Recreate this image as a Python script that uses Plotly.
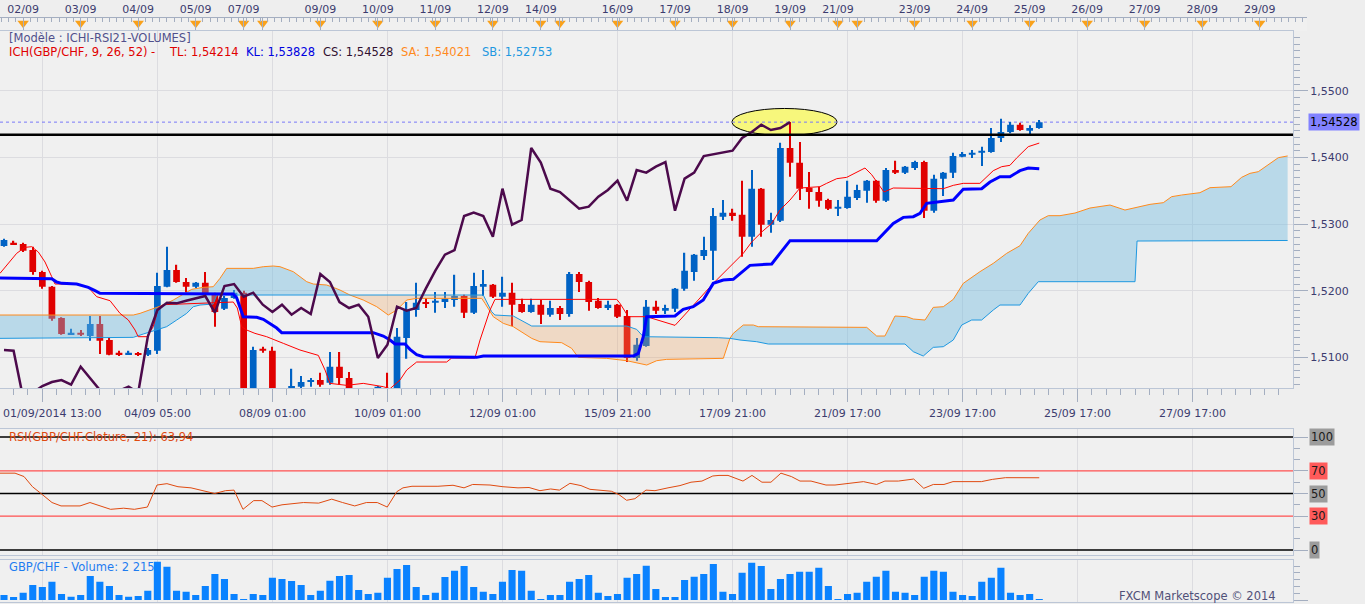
import plotly.graph_objects as go

# GBP/CHF 4h candles, index 0 = first bar on screen
open_ = [1.5267, 1.5272, 1.5270, 1.5261, 1.5228, 1.5206, 1.5159, 1.5135, 1.5137, 1.5132,
         1.5150, 1.5126, 1.5106, 1.5105, 1.5106, 1.5104, 1.5110, 1.5206, 1.5231, 1.5213,
         1.5206, 1.5212, 1.5194, 1.5173, 1.5189, 1.5197, 1.5041, 1.5113, 1.5110, 1.5041,
         1.5050, 1.5056, 1.5063, 1.5066, 1.5062, 1.5086, 1.5069, 1.5051, 1.5047, 1.5048,
         1.5053, 1.5044, 1.5129, 1.5171, 1.5183, 1.5182, 1.5183, 1.5186, 1.5192, 1.5167,
         1.5206, 1.5209, 1.5191, 1.5197, 1.5180, 1.5168, 1.5179, 1.5164, 1.5174, 1.5165,
         1.5225, 1.5213, 1.5185, 1.5174, 1.5179, 1.5162, 1.5099, 1.5117, 1.5176, 1.5170,
         1.5173, 1.5203, 1.5228, 1.5252, 1.5260, 1.5311, 1.5317, 1.5314, 1.5281, 1.5353,
         1.5299, 1.5305, 1.5414, 1.5392, 1.5354, 1.5348, 1.5336, 1.5323, 1.5324, 1.5339,
         1.5350, 1.5365, 1.5335, 1.5381, 1.5377, 1.5384, 1.5393, 1.5320, 1.5368, 1.5377,
         1.5401, 1.5404, 1.5407, 1.5408, 1.5429, 1.5438, 1.5449, 1.5440, 1.5444]
high = [1.5278, 1.5275, 1.5272, 1.5266, 1.5230, 1.5207, 1.5160, 1.5143, 1.5141, 1.5162,
        1.5162, 1.5129, 1.5110, 1.5110, 1.5108, 1.5114, 1.5227, 1.5266, 1.5239, 1.5219,
        1.5213, 1.5228, 1.5197, 1.5192, 1.5201, 1.5200, 1.5116, 1.5116, 1.5116, 1.5051,
        1.5083, 1.5072, 1.5069, 1.5077, 1.5108, 1.5108, 1.5078, 1.5053, 1.5053, 1.5057,
        1.5077, 1.5144, 1.5183, 1.5212, 1.5189, 1.5198, 1.5198, 1.5224, 1.5194, 1.5227,
        1.5231, 1.5210, 1.5221, 1.5212, 1.5188, 1.5188, 1.5186, 1.5185, 1.5177, 1.5228,
        1.5228, 1.5215, 1.5189, 1.5185, 1.5180, 1.5171, 1.5129, 1.5186, 1.5185, 1.5179,
        1.5204, 1.5257, 1.5255, 1.5281, 1.5324, 1.5336, 1.5323, 1.5365, 1.5381, 1.5354,
        1.5317, 1.5422, 1.5453, 1.5423, 1.5378, 1.5356, 1.5338, 1.5336, 1.5365, 1.5359,
        1.5366, 1.5366, 1.5384, 1.5395, 1.5387, 1.5395, 1.5395, 1.5374, 1.5378, 1.5407,
        1.5408, 1.5411, 1.5416, 1.5444, 1.5458, 1.5453, 1.5452, 1.5448, 1.5456]
low = [1.5266, 1.5269, 1.5258, 1.5224, 1.5203, 1.5155, 1.5134, 1.5134, 1.5132, 1.5125,
       1.5105, 1.5103, 1.5102, 1.5104, 1.5102, 1.5102, 1.5105, 1.5205, 1.5212, 1.5198,
       1.5204, 1.5192, 1.5146, 1.5171, 1.5188, 1.5021, 1.5029, 1.5107, 1.5029, 1.5033,
       1.5047, 1.5053, 1.5056, 1.5056, 1.5059, 1.5059, 1.5048, 1.5042, 1.5042, 1.5044,
       1.5042, 1.5041, 1.5098, 1.5161, 1.5174, 1.5167, 1.5174, 1.5176, 1.5159, 1.5165,
       1.5192, 1.5189, 1.5176, 1.5147, 1.5167, 1.5167, 1.5150, 1.5161, 1.5156, 1.5161,
       1.5198, 1.5170, 1.5173, 1.5171, 1.5159, 1.5093, 1.5095, 1.5116, 1.5165, 1.5165,
       1.5168, 1.5200, 1.5215, 1.5246, 1.5216, 1.5306, 1.5305, 1.5251, 1.5266, 1.5281,
       1.5287, 1.5303, 1.5371, 1.5336, 1.5323, 1.5326, 1.5321, 1.5312, 1.5323, 1.5336,
       1.5332, 1.5332, 1.5333, 1.5375, 1.5375, 1.5381, 1.5309, 1.5317, 1.5342, 1.5369,
       1.5400, 1.5399, 1.5387, 1.5407, 1.5423, 1.5436, 1.5440, 1.5435, 1.5443]
close = [1.5276, 1.5270, 1.5260, 1.5228, 1.5206, 1.5158, 1.5135, 1.5137, 1.5134, 1.5150,
         1.5125, 1.5104, 1.5105, 1.5107, 1.5104, 1.5111, 1.5207, 1.5231, 1.5213, 1.5206,
         1.5212, 1.5194, 1.5168, 1.5189, 1.5197, 1.5036, 1.5111, 1.5110, 1.5039, 1.5047,
         1.5057, 1.5063, 1.5066, 1.5059, 1.5086, 1.5069, 1.5051, 1.5047, 1.5050, 1.5056,
         1.5047, 1.5131, 1.5171, 1.5182, 1.5181, 1.5185, 1.5188, 1.5192, 1.5167, 1.5207,
         1.5210, 1.5191, 1.5197, 1.5179, 1.5168, 1.5179, 1.5164, 1.5174, 1.5165, 1.5225,
         1.5213, 1.5183, 1.5174, 1.5179, 1.5161, 1.5099, 1.5119, 1.5176, 1.5170, 1.5174,
         1.5203, 1.5230, 1.5254, 1.5261, 1.5312, 1.5317, 1.5312, 1.5281, 1.5353, 1.5299,
         1.5306, 1.5414, 1.5392, 1.5353, 1.5348, 1.5335, 1.5323, 1.5326, 1.5341, 1.5351,
         1.5365, 1.5335, 1.5381, 1.5377, 1.5386, 1.5393, 1.5320, 1.5368, 1.5377, 1.5402,
         1.5405, 1.5407, 1.5410, 1.5429, 1.5438, 1.5449, 1.5441, 1.5444, 1.54528]
volume = [11100, 6600, 16200, 33200, 28800, 40500, 13300, 7300, 11100, 53200,
          40500, 31000, 11100, 7300, 8900, 20600, 84800, 73800, 20600, 18400,
          11100, 31000, 57600, 46500, 13300, 2200, 13300, 11100, 49400, 46500,
          42100, 33200, 11100, 20600, 42700, 53200, 55400, 22200, 13300, 16200,
          49400, 68700, 77500, 28800, 11100, 16200, 50900, 64900, 75300, 28800,
          18400, 13300, 40500, 66500, 64900, 20600, 2200, 11100, 11100, 40500,
          46500, 55400, 16200, 8900, 13300, 49400, 57600, 76000, 24400, 6600,
          6600, 44300, 51600, 57600, 79700, 18400, 13300, 60500, 82600, 75300,
          24400, 46500, 57600, 62700, 62700, 71500, 31000, 2200, 13300, 16200,
          40500, 51600, 64900, 18400, 16200, 11100, 51600, 64900, 62700, 18400,
          11100, 8900, 40500, 49400, 71500, 16200, 11100, 13300, 2215]

# ichimoku lines (x = bar index)
tenkan_x = [-0.42, 0.45, 1.32, 2.19, 2.89, 3.58, 4.28, 4.98, 5.32, 7.58, 8.79, 9.67, 11.06, 12.1,
            12.97, 13.67, 14.0, 14.89, 15.57, 16.1, 16.62, 23.92, 24.34, 24.8, 25.32, 26.18,
            27.4, 29.14, 30.88, 32.79, 33.49, 34.01, 35.75, 37.48, 39.57, 40.27, 41.31, 42.01,
            43.05, 46.18, 46.7, 49.13, 49.66, 50.7, 51.22, 63.92, 64.26, 65.13, 67.05, 70.0,
            70.52, 73.99, 76.08, 77.12, 78.0, 79.04, 80.09, 80.95, 82.0, 83.04, 84.08, 85.12,
            85.82, 86.87, 87.91, 88.95, 89.82, 90.52, 91.8, 92.77, 97.99, 99.03, 100.07, 101.81,
            103.2, 104.08, 104.94, 105.64, 106.85, 108.0]
tenkan_y = [1.5226, 1.5241, 1.5256, 1.5265, 1.5266, 1.5258, 1.5243, 1.5221, 1.5210, 1.5210,
            1.5205, 1.5191, 1.5185, 1.5166, 1.5156, 1.5141, 1.5131, 1.5131, 1.5146, 1.5174,
            1.5179, 1.5183, 1.5174, 1.5146, 1.5141, 1.5136, 1.5131, 1.5121, 1.5111, 1.5103,
            1.5081, 1.5061, 1.5058, 1.5061, 1.5056, 1.5053, 1.5066, 1.5081, 1.5093, 1.5093,
            1.5099, 1.5099, 1.5126, 1.5171, 1.5187, 1.5187, 1.5181, 1.5161, 1.5161, 1.5148,
            1.5156, 1.5211, 1.5241, 1.5256, 1.5273, 1.5288, 1.5301, 1.5321, 1.5336, 1.5354,
            1.5355, 1.5356, 1.5361, 1.5368, 1.5370, 1.5378, 1.5384, 1.5374, 1.5348, 1.5354,
            1.5353, 1.5358, 1.5361, 1.5361, 1.5380, 1.5386, 1.5388, 1.5399, 1.5416, 1.54214]
kijun_x = [-0.42, 4.98, 5.5, 6.02, 7.58, 8.79, 9.49, 10.01, 23.92, 24.28, 24.96, 26.36, 27.05,
           27.75, 28.45, 28.97, 38.52, 39.57, 40.27, 40.79, 41.83, 42.35, 43.05, 43.74, 49.31,
           50.0, 65.65, 66.17, 66.69, 67.04, 70.0, 70.86, 71.9, 72.95, 73.99, 75.04, 76.08,
           77.82, 80.09, 80.95, 82.0, 91.04, 91.73, 92.77, 93.82, 94.86, 95.56, 96.25, 99.03,
           100.07, 101.99, 102.86, 103.9, 104.94, 105.99, 106.85, 108.0]
kijun_y = [1.5219, 1.5218, 1.5213, 1.5211, 1.5210, 1.5205, 1.5200, 1.5196, 1.5195, 1.5189,
           1.5161, 1.5160, 1.5157, 1.5151, 1.5144, 1.5137, 1.5137, 1.5132, 1.5126, 1.5120,
           1.5120, 1.5112, 1.5104, 1.5101, 1.5100, 1.5102, 1.5102, 1.5106, 1.5131, 1.5161,
           1.5162, 1.5172, 1.5176, 1.5186, 1.5211, 1.5216, 1.5217, 1.5238, 1.5240, 1.5256,
           1.5275, 1.5275, 1.5286, 1.5301, 1.5310, 1.5311, 1.5316, 1.5331, 1.5336, 1.5352,
           1.5353, 1.5363, 1.5371, 1.5371, 1.5380, 1.5384, 1.53828]
senkou_a_x = [-0.42, 4.8, 13.49, 14.19, 15.23, 15.93, 16.62, 17.66, 18.7, 19.58, 20.79, 21.83,
              22.53, 23.23, 26.01, 27.05, 28.09, 28.79, 30.18, 31.58, 32.27, 33.66, 34.35, 35.05,
              36.09, 37.48, 38.88, 40.09, 40.97, 42.01, 43.05, 49.83, 50.18, 51.04, 52.09, 53.13,
              55.05, 55.91, 58.18, 59.22, 59.91, 62.87, 64.96, 66.0, 67.05, 68.09, 69.13, 75.04,
              75.73, 76.08, 77.12, 78.17, 78.69, 90.0, 91.04, 91.9, 92.95, 94.17, 94.86, 96.08,
              96.94, 97.99, 99.03, 100.07, 101.12, 101.81, 103.2, 104.6, 105.99, 106.85, 108.07,
              108.94, 110.16, 111.73, 113.29, 115.38, 116.94, 119.55, 120.94, 121.81, 122.85,
              124.76, 125.81, 128.0, 129.11, 129.98, 130.85, 131.55, 132.94, 133.91]
senkou_a_y = [1.51635, 1.51635, 1.51635, 1.5166, 1.5171, 1.5175, 1.51785, 1.5186, 1.5195, 1.5202,
              1.5205, 1.5206, 1.52185, 1.52335, 1.52335, 1.5236, 1.5237, 1.5236, 1.52285, 1.52135,
              1.5210, 1.52085, 1.5205, 1.5201, 1.51935, 1.5186, 1.5176, 1.51635, 1.5171, 1.5186,
              1.51885, 1.51885, 1.5181, 1.5161, 1.5151, 1.5146, 1.51285, 1.51235, 1.5122, 1.51135,
              1.5100, 1.50985, 1.5095, 1.5092, 1.50885, 1.5095, 1.5097, 1.50985, 1.51285, 1.5136,
              1.51485, 1.51485, 1.5146, 1.5145, 1.5132, 1.5132, 1.5162, 1.5161, 1.51575, 1.5156,
              1.5175, 1.5176, 1.5187, 1.5211, 1.5222, 1.52285, 1.5241, 1.5256, 1.52675, 1.5286,
              1.5306, 1.53125, 1.53125, 1.53165, 1.5324, 1.53285, 1.5321, 1.53295, 1.5332, 1.5341,
              1.53435, 1.5347, 1.53545, 1.5356, 1.5370, 1.5376, 1.53785, 1.5386, 1.53995, 1.54021]
senkou_b_x = [-0.42, 13.49, 14.53, 15.93, 16.97, 18.02, 19.06, 19.75, 20.45, 21.83, 22.19, 50.0,
              50.87, 51.22, 53.13, 55.05, 64.96, 66.0, 66.69, 74.51, 75.73, 76.78, 78.52, 79.73,
              93.99, 94.86, 95.9, 96.94, 97.99, 99.03, 99.91, 100.95, 101.99, 103.2, 103.9, 105.99,
              106.85, 107.9, 117.99, 118.2, 129.46, 129.63, 133.91]
senkou_b_y = [1.51285, 1.5130, 1.5135, 1.5141, 1.5146, 1.5156, 1.5166, 1.5176, 1.51785, 1.5180,
              1.51935, 1.51935, 1.51685, 1.51635, 1.5162, 1.5147, 1.5147, 1.5142, 1.5131, 1.51295,
              1.51285, 1.5126, 1.51235, 1.5120, 1.5120, 1.51085, 1.5102, 1.5115, 1.5116, 1.5126,
              1.51485, 1.5156, 1.5156, 1.5171, 1.51785, 1.51785, 1.5196, 1.52135, 1.52135, 1.52745,
              1.52745, 1.52753, 1.52753]
# points where the two cloud edges cross
cross_x = [36.09, 75.73]
cross_y = [1.51935, 1.51285]

rsi_x = [-0.42, 1.15, 2.09, 2.97, 3.86, 5.01, 5.95, 7.93, 8.97, 10.01, 11.12, 12.48, 13.6, 14.96,
         15.96, 17.0, 18.15, 19.51, 21.98, 23.11, 24.0, 24.93, 26.05, 26.91, 27.96, 29.0, 31.24,
         32.83, 34.19, 35.32, 36.59, 37.8, 38.94, 39.98, 40.98, 41.62, 42.56, 45.27, 46.84, 47.99,
         48.89, 50.7, 52.05, 53.62, 54.77, 55.91, 57.03, 57.94, 59.04, 60.19, 61.13, 63.36, 64.16,
         64.95, 65.82, 66.97, 67.91, 69.27, 70.52, 71.67, 72.81, 73.94, 74.59, 75.53, 76.21,
         77.09, 78.03, 79.07, 80.01, 81.05, 82.14, 83.04, 84.19, 85.75, 86.69, 87.84, 88.53,
         89.66, 91.03, 91.9, 93.3, 94.9, 95.95, 96.95, 98.06, 99.0, 101.96, 103.11, 104.48,
         105.57, 106.51, 107.45, 108.0]
rsi_y = [68, 68, 65, 56, 50, 42, 39, 39, 42, 39, 36, 37, 36, 38, 57.5, 58.7, 56, 55, 50, 52.5, 53,
         36, 43.7, 43.7, 38, 40, 42, 41.5, 45, 42, 39, 42, 42, 38, 51.6, 55, 56.4, 56.4, 57.3, 55,
         58, 57.5, 56, 55, 55.3, 52.5, 54, 53, 59, 57, 53.7, 52, 49, 44, 45.4, 53, 52.5, 55, 57,
         60, 61, 65.5, 66, 66, 64, 61, 66, 60, 60, 68, 65, 61, 61, 57.5, 57.5, 58.7, 59.6, 60.5,
         58, 61, 61, 62.8, 54.6, 58, 58, 60.5, 60.5, 62.5, 64, 64, 63.5, 63.5, 63.94]

resistance = 1.5434

top_ticks = [2, 8, 14, 20, 25, 27, 33, 39, 45, 51, 56, 58, 64, 70, 76, 82, 87, 89, 95, 101,
             107, 113, 119, 125, 131]
top_labels = ["02/09", "03/09", "04/09", "05/09", "07/09", "", "09/09", "10/09", "11/09",
              "12/09", "14/09", "", "16/09", "17/09", "18/09", "19/09", "21/09", "", "23/09",
              "24/09", "25/09", "26/09", "27/09", "28/09", "29/09"]
bottom_ticks = [4, 16, 28, 40, 52, 64, 76, 88, 100, 112, 124]
bottom_labels = ["01/09/2014 13:00", "04/09 05:00", "08/09 01:00", "10/09 01:00", "12/09 01:00",
                 "15/09 21:00", "17/09 21:00", "21/09 17:00", "23/09 17:00", "25/09 17:00",
                 "27/09 17:00"]
price_ticks = [1.51, 1.52, 1.53, 1.54, 1.55]
price_labels = ["1,5100", "1,5200", "1,5300", "1,5400", "1,5500"]

W, H = 1365, 604
X_END = 1293 / W
x_range = [-0.417, 134.47]
grid = "#DCDCE0"
border = "#BCC6D6"
ruler = "#A4AEC0"
txt = "#3C3C6E"
UP, DOWN = "#0062C4", "#E00000"

fig = go.Figure()

idx = list(range(len(close)))
colors = [UP if c >= o else DOWN for o, c in zip(open_, close)]
fig.add_trace(go.Bar(x=idx, y=[h - l for h, l in zip(high, low)], base=low, width=0.13,
                     marker=dict(color=colors, line=dict(width=0))))
fig.add_trace(go.Bar(x=idx, y=[max(abs(c - o), 0.00018) for o, c in zip(open_, close)],
                     base=[min(o, c) for o, c in zip(open_, close)], width=0.7,
                     marker=dict(color=colors, line=dict(width=0))))

# kumo: blue where A above B, peach where below
cuts = [senkou_a_x[0] - 1] + cross_x + [senkou_a_x[-1] + 1]
for k in range(len(cuts) - 1):
    lo, hi = cuts[k], cuts[k + 1]
    px, py = [], []
    if k > 0:
        px.append(cross_x[k - 1])
        py.append(cross_y[k - 1])
    for x, y in zip(senkou_a_x, senkou_a_y):
        if lo < x < hi:
            px.append(x)
            py.append(y)
    if k < len(cross_x):
        px.append(cross_x[k])
        py.append(cross_y[k])
    for x, y in reversed(list(zip(senkou_b_x, senkou_b_y))):
        if lo < x < hi:
            px.append(x)
            py.append(y)
    fill = "rgba(110,185,225,0.42)" if k % 2 == 0 else "rgba(240,165,100,0.30)"
    fig.add_trace(go.Scatter(x=px, y=py, mode="lines", fill="toself", fillcolor=fill,
                             line=dict(width=0)))

fig.add_trace(go.Scatter(x=senkou_a_x, y=senkou_a_y, mode="lines", line=dict(color="#FF8A1C", width=1)))
fig.add_trace(go.Scatter(x=senkou_b_x, y=senkou_b_y, mode="lines", line=dict(color="#1E98E0", width=1)))
fig.add_trace(go.Scatter(x=tenkan_x, y=tenkan_y, mode="lines", line=dict(color="#FF0000", width=1)))
fig.add_trace(go.Scatter(x=kijun_x, y=kijun_y, mode="lines", line=dict(color="#0000FF", width=3)))
fig.add_trace(go.Scatter(x=idx[:len(close) - 26], y=close[26:], mode="lines",
                         line=dict(color="#4C0A4C", width=2.5)))

# top date ruler
fig.add_trace(go.Scatter(x=top_ticks, y=[0.62] * len(top_ticks), mode="markers",
                         marker=dict(symbol="triangle-down", size=10, color="#F9A11B"),
                         xaxis="x2", yaxis="y2"))

fig.add_trace(go.Scatter(x=rsi_x, y=rsi_y, mode="lines", line=dict(color="#E04A10", width=1),
                         xaxis="x3", yaxis="y3"))

fig.add_trace(go.Bar(x=idx, y=volume, width=0.74, marker=dict(color="#0A82FF", line=dict(width=0)),
                     xaxis="x4", yaxis="y4"))

shapes = [
    dict(type="circle", xref="x", yref="y", x0=75.94, x1=86.9, y0=1.54328, y1=1.54733,
         fillcolor="#F7F77C", line=dict(color="black", width=1), layer="between"),
    dict(type="line", xref="x", yref="y", x0=x_range[0], x1=x_range[1], y0=close[-1], y1=close[-1],
         line=dict(color="#7878F8", width=1, dash="3px,3px"), layer="between"),
    dict(type="line", xref="x", yref="y", x0=x_range[0], x1=x_range[1], y0=resistance, y1=resistance,
         line=dict(color="black", width=2.5), layer="above"),
]
for lvl, col, w in [(100, "black", 1.5), (70, "#FF5050", 1.2), (50, "black", 1.5),
                    (30, "#FF5050", 1.2), (0, "black", 1.5)]:
    shapes.append(dict(type="line", xref="x3", yref="y3", x0=x_range[0], x1=x_range[1],
                       y0=lvl, y1=lvl, line=dict(color=col, width=w), layer="between"))

annotations = [
    dict(text="[Modèle : ICHI-RSI21-VOLUMES]", x=7 / W, y=1 - 38 / H, font=dict(color="#50508C", size=11.5)),
    dict(text="ICH(GBP/CHF, 9, 26, 52) -", x=7 / W, y=1 - 52 / H, font=dict(color="#E00000", size=11.5)),
    dict(text="TL: 1,54214", x=167 / W, y=1 - 52 / H, font=dict(color="#E00000", size=11.5)),
    dict(text="KL: 1,53828", x=244 / W, y=1 - 52 / H, font=dict(color="#0000E0", size=11.5)),
    dict(text="CS: 1,54528", x=321 / W, y=1 - 52 / H, font=dict(color="#301030", size=11.5)),
    dict(text="SA: 1,54021", x=399 / W, y=1 - 52 / H, font=dict(color="#FF8A1C", size=11.5)),
    dict(text="SB: 1,52753", x=480 / W, y=1 - 52 / H, font=dict(color="#1E98E0", size=11.5)),
    dict(text="RSI(GBP/CHF.Cloture, 21): 63,94", x=7 / W, y=1 - 437 / H, font=dict(color="#E04A10", size=11.5)),
    dict(text="GBP/CHF - Volume: 2 215", x=7 / W, y=1 - 567 / H, font=dict(color="#1E7CF0", size=11.5)),
    dict(text="FXCM Marketscope © 2014", x=1278 / W, y=1 - 596 / H, xanchor="right",
         font=dict(color="#505078", size=11.5)),
    dict(text=bottom_labels[0], x=1 / W, y=1 - 413 / H, font=dict(color=txt, size=11)),
]
for a in annotations:
    a.update(xref="paper", yref="paper", showarrow=False, yanchor="middle")
    a.setdefault("xanchor", "left")
for t, lab in zip(bottom_ticks[1:], bottom_labels[1:]):
    annotations.append(dict(text=lab, x=t, xref="x", y=1 - 413 / H, yref="paper", showarrow=False,
                            xanchor="center", yanchor="middle", font=dict(color=txt, size=11)))
annotations.append(dict(text="1,54528", x=1308 / W, xref="paper", y=close[-1], yref="y",
                        showarrow=False, xanchor="left", yanchor="middle", bgcolor="#8282FF",
                        borderpad=1, font=dict(color="black", size=11.5)))
for lvl, bg in [(100, "#9C9C9C"), (70, "#FF5A5A"), (50, "#9C9C9C"), (30, "#FF5A5A"), (0, "#9C9C9C")]:
    annotations.append(dict(text=str(lvl), x=1309 / W, xref="paper", y=lvl, yref="y3",
                            showarrow=False, xanchor="left", yanchor="middle", bgcolor=bg,
                            borderpad=1, font=dict(color="#1A1A1A", size=11.5)))

panel_x = dict(domain=[0, X_END], range=x_range, tickmode="array", tickvals=bottom_ticks,
               showticklabels=False, showgrid=True, gridcolor=grid, showline=True,
               linecolor=border, mirror=True, zeroline=False)
fig.update_layout(
    width=W, height=H,
    margin=dict(l=0, r=0, t=0, b=0),
    paper_bgcolor="#EEEEEE", plot_bgcolor="#F0F0F0",
    showlegend=False, barmode="overlay", hovermode=False,
    font=dict(family="DejaVu Sans", size=11, color=txt),
    shapes=shapes, annotations=annotations,
    xaxis=dict(panel_x, anchor="y", ticks="outside", ticklen=13, tickcolor=ruler,
               minor=dict(tick0=4, dtick=1.5, ticks="outside", ticklen=6, tickcolor=ruler)),
    yaxis=dict(domain=[1 - 388.3 / H, 1 - 31 / H], range=[1.50536, 1.55895], side="right",
               anchor="x", tickmode="array", tickvals=price_ticks, ticktext=price_labels,
               ticks="outside", ticklen=14, tickcolor=ruler, showgrid=True, gridcolor=grid,
               showline=True, linecolor=border, mirror=True, zeroline=False,
               minor=dict(dtick=0.001, ticks="outside", ticklen=6, tickcolor=ruler)),
    xaxis2=dict(domain=[0, 1307 / W], range=[-0.417, 135.93], anchor="y2", side="top",
                tickmode="array", tickvals=top_ticks, ticktext=top_labels, ticks="inside",
                ticklen=12, tickcolor=ruler, showline=True, linecolor=ruler, showgrid=False,
                zeroline=False,
                minor=dict(tick0=0.5, dtick=0.75, ticks="inside", ticklen=4, tickcolor=ruler)),
    yaxis2=dict(domain=[1 - 31 / H, 1 - 18.3 / H], range=[0, 1], visible=False),
    xaxis3=dict(panel_x, anchor="y3"),
    yaxis3=dict(domain=[1 - 555 / H, 1 - 429 / H], range=[-4.42, 107.08], side="right",
                anchor="x3", tickmode="array", tickvals=[0, 30, 50, 70, 100], showticklabels=False,
                ticks="outside", ticklen=14, tickcolor=ruler, showgrid=False, showline=True,
                linecolor=border, mirror=True, zeroline=False,
                minor=dict(dtick=10, ticks="outside", ticklen=6, tickcolor=ruler)),
    xaxis4=dict(panel_x, anchor="y4"),
    yaxis4=dict(domain=[1 - 601.7 / H, 1 - 560 / H], range=[-3766, 88600], side="right",
                anchor="x4", tickmode="array", tickvals=[0], ticktext=["0"],
                ticks="outside", ticklen=14, tickcolor=ruler, showgrid=False, showline=True,
                linecolor=border, mirror=True, zeroline=False,
                minor=dict(dtick=15000, ticks="outside", ticklen=6, tickcolor=ruler)),
)

# the page's default 8px body margin would push the figure off the window
fig.write_html("out.html", config={"displayModeBar": False},
               post_script="document.body.style.margin = '0px';")
